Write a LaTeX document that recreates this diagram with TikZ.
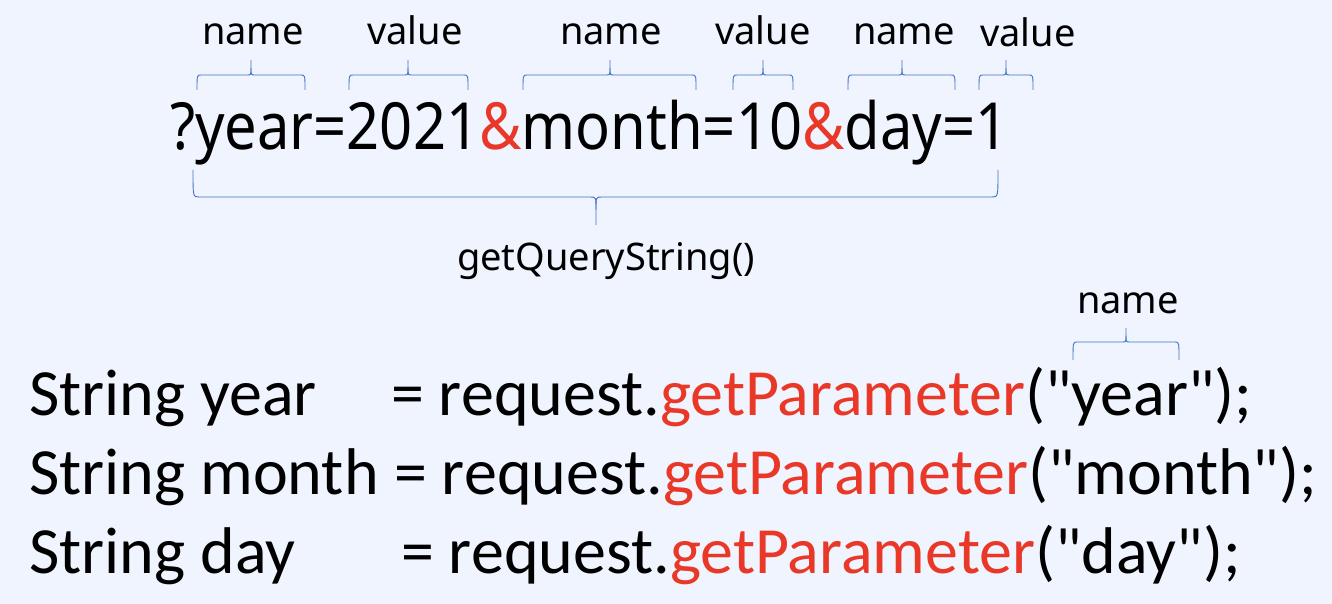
\documentclass[tikz,border=0pt]{standalone}
\usepackage{fontspec}
\usepackage{graphicx}
\setmainfont{Carlito}
\newfontfamily\codefont{Carlito}
\newfontfamily\topfont{Noto Sans}
\definecolor{bg}{RGB}{239,244,255}
\definecolor{qred}{RGB}{234,56,40}
\definecolor{bracecol}{RGB}{68,114,196}
\tikzset{
  code/.style={anchor=base west, inner sep=0pt, font=\codefont\fontsize{66}{78}\selectfont},
  lbl/.style={anchor=base, inner sep=0pt, font=\topfont\fontsize{38}{46}\selectfont},
  bracepath/.style={draw=bracecol, line width=0.9pt}
}
% #1 x left, #2 x right, #3 x tip, #4 y of ends, #5 y of bar, #6 y of tip, #7 corner size
\newcommand\hbrace[7]{%
  \draw[bracepath] (#1,#4) .. controls (#1,#5) .. (#1+#7,#5) -- (#3-#7,#5)
     .. controls (#3,#5) .. (#3,{#5+0.45*(#6-#5)}) -- (#3,#6);
  \draw[bracepath] (#2,#4) .. controls (#2,#5) .. (#2-#7,#5) -- (#3+#7,#5)
     .. controls (#3,#5) .. (#3,{#5+0.45*(#6-#5)});
}
\begin{document}
\begin{tikzpicture}[x=1pt,y=-1pt]
\fill[bg] (0,0) rectangle (1332,604);
\useasboundingbox (0,0) rectangle (1332,604);

% query string
\node[anchor=base west, inner sep=0pt, font=\topfont\fontsize{65}{78}\selectfont] (qs) at (170,150)
  {\resizebox{838pt}{\height}{?year=2021\textcolor{qred}{\&}month=10\textcolor{qred}{\&}day=1}};

% labels above
\node[lbl] (n1) at (253,45) {name};
\node[lbl] (v1) at (415,45) {value};
\node[lbl] (n2) at (611,45) {name};
\node[lbl] (v2) at (763,45) {value};
\node[lbl] (n3) at (904,45) {name};
\node[lbl] (v3) at (1028,47) {value};

\hbrace{197}{305}{251}{90}{75}{60}{4}
\hbrace{349}{468}{408}{90}{75}{60}{4}
\hbrace{523}{696}{610}{90}{75}{60}{4}
\hbrace{733}{793}{763}{90}{75}{60}{4}
\hbrace{848}{955}{902}{90}{75}{60}{4}
\hbrace{979}{1033}{1006}{90}{75}{60}{4}

% big brace and getQueryString()
\hbrace{193}{998}{596}{170}{197}{225}{6}
\node[lbl] (gqs) at (606,270) {getQueryString()};

% name over "year"
\node[lbl] (n4) at (1128,313) {name};
\hbrace{1073}{1179}{1126}{360}{342}{328}{4}

% code lines
\node[code] (l1a) at (29,415) {String year};
\node[code] (l1b) at (391,415) {= request.\textcolor{qred}{getParameter}("year");};
\node[code] (l2a) at (29,494) {String month};
\node[code] (l2b) at (394,494) {= request.\textcolor{qred}{getParameter}("month");};
\node[code] (l3a) at (29,573) {String day};
\node[code] (l3b) at (401,573) {= request.\textcolor{qred}{getParameter}("day");};
\end{tikzpicture}
\end{document}
